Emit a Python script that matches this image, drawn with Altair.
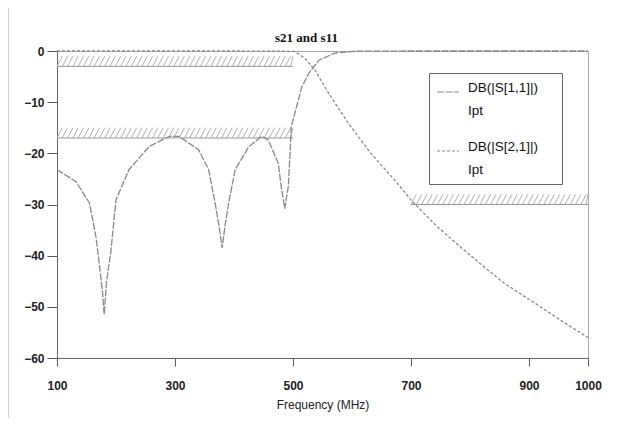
import altair as alt
import pandas as pd

# ---- data ----
f_s11 = [100, 132, 155, 166, 172, 177, 180, 184, 191, 200, 222, 256, 290, 307, 340, 357,
         368, 375, 380, 385, 391, 402, 425, 447, 458, 475, 480, 486, 492, 495, 497, 506,
         515, 527, 544, 571, 605, 700, 800, 900, 1000]
s11 = [-23.2, -25.5, -29.7, -36.3, -42.0, -47.0, -51.5, -45.0, -39.5, -29.1, -23.2, -18.7,
       -16.7, -16.7, -19.3, -23.2, -29.7, -34.5, -38.5, -34.0, -29.7, -23.2, -18.7, -16.7,
       -17.4, -21.9, -26.5, -30.8, -26.5, -20.0, -14.8, -10.9, -7.0, -4.3, -1.8, -0.4,
       -0.05, 0.0, 0.0, 0.0, 0.0]

f_s21 = [100, 200, 300, 400, 480, 503, 520, 537, 554, 560, 593, 632, 672, 703, 745, 784,
         824, 857, 909, 952, 1000]
s21 = [0.0, 0.0, 0.0, 0.0, -0.05, -0.1, -1.4, -3.7, -7.0, -8.2, -14.0, -20.0, -25.2, -29.5,
       -34.4, -38.3, -42.2, -45.3, -49.2, -52.5, -56.0]

series_names = ["DB(|S[1,1]|)", "DB(|S[2,1]|)"]

mask_f1 = [100, 100, 700]
mask_f2 = [500, 500, 1000]
mask_top = [-1, -15, -28]
mask_bot = [-3, -17, -30]

x_ticks = [100, 300, 500, 700, 900, 1000]
y_ticks = [0, -10, -20, -30, -40, -50, -60]

title_text = "s21 and s11"
x_title = "Frequency (MHz)"

# ---- tables ----
curves = pd.concat([
    pd.DataFrame({"f": f_s11, "db": s11, "series": series_names[0], "order": range(len(f_s11))}),
    pd.DataFrame({"f": f_s21, "db": s21, "series": series_names[1], "order": range(len(f_s21))}),
])

masks = pd.DataFrame({"f1": mask_f1, "f2": mask_f2, "top": mask_top, "bot": mask_bot})

hatch_rows = []
for a, b, t, bt in zip(mask_f1, mask_f2, mask_top, mask_bot):
    x = a
    while x < b:
        hatch_rows.append({"hx": x, "hx2": min(x + 9, b), "hy": bt, "hy2": t})
        x += 9
hatch = pd.DataFrame(hatch_rows)

xscale = alt.Scale(domain=[100, 1000], nice=False, zero=False)
yscale = alt.Scale(domain=[-60, 0], nice=False, zero=False)

font = "Liberation Sans"

x_axis = alt.Axis(values=x_ticks, format="d", title=x_title, grid=False, labelFont=font,
                  labelFontSize=12, labelFontWeight="bold", labelColor="#222",
                  titleFont=font, titleFontSize=12, titleFontWeight="normal",
                  titleColor="#222", domainColor="#666", tickColor="#557", tickSize=8,
                  labelPadding=14, titlePadding=8, labelFlush=False)
y_axis = alt.Axis(values=y_ticks, title=None, grid=False, labelFont=font, labelFontSize=12,
                  labelColor="#222", domainColor="#666", tickColor="#557", tickSize=10,
                  labelPadding=3, labelFontWeight="bold")

hatch_layer = alt.Chart(hatch).mark_rule(color="#b0b0b0", strokeWidth=1).encode(
    x=alt.X("hx:Q", scale=xscale, axis=x_axis),
    x2="hx2:Q",
    y=alt.Y("hy:Q", scale=yscale, axis=y_axis),
    y2="hy2:Q",
)

mask_bottom = alt.Chart(masks).mark_rule(color="#999", strokeWidth=1).encode(
    x=alt.X("f1:Q", scale=xscale), x2="f2:Q",
    y=alt.Y("bot:Q", scale=yscale),
)

lines = alt.Chart(curves).mark_line(color="#888", strokeWidth=1.3).encode(
    x=alt.X("f:Q", scale=xscale),
    y=alt.Y("db:Q", scale=yscale),
    order="order:Q",
    strokeDash=alt.StrokeDash(
        "series:N",
        scale=alt.Scale(domain=series_names, range=[[7, 1.5], [3, 2]]),
        legend=alt.Legend(
            title=".", titleOrient="right", titleOpacity=0, titlePadding=14,
            titleFontSize=8,
            orient="none", legendX=372, legendY=22,
            labelExpr="[datum.label, 'Ipt']",
            labelFont=font, labelFontSize=13.5, labelColor="#111", labelLimit=300,
            symbolType="stroke", symbolSize=484, symbolStrokeColor="#888",
            symbolStrokeWidth=1.2, labelOffset=8, rowPadding=21, padding=7,
            strokeColor="#666", fillColor="white", labelBaseline="alphabetic",
            symbolOffset=0,
        ),
    ),
)

left_edge = alt.Chart(pd.DataFrame({"k": [0]})).mark_rule(color="#d0d0d0", strokeWidth=2).encode(
    x=alt.value(-49), y=alt.value(-43), y2=alt.value(372)
)

chart = alt.layer(left_edge, hatch_layer, mask_bottom, lines).properties(
    width=531, height=307,
    title=alt.Title(title_text, font="Liberation Serif", fontSize=13, fontWeight="bold",
                    color="#111", offset=-38, dx=-16, frame="group"),
    autosize=alt.AutoSizeParams(type="none"),
    padding={"left": 49, "top": 43, "right": 22, "bottom": 60},
).configure(
    style={"guide-label": {"lineHeight": 23}}
).configure_view(stroke="#aaa", strokeWidth=1)

chart.save("out.html", embed_options={"renderer": "svg", "actions": False})
